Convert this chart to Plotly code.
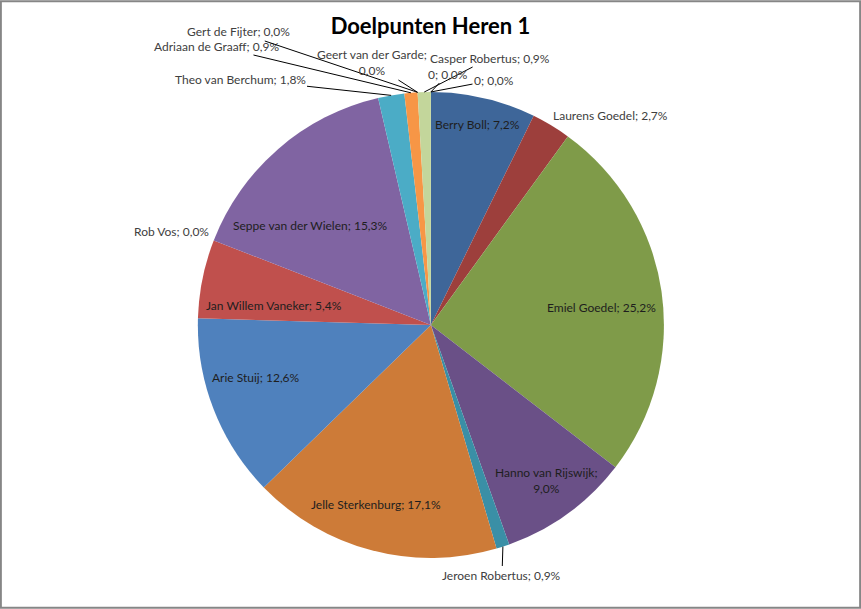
import math
import plotly.graph_objects as go

# Doelpunten per speler, volgorde zoals in de taart (met de klok mee vanaf 12 uur)
spelers = [
    'Berry Boll', 'Laurens Goedel', 'Emiel Goedel', 'Hanno van Rijswijk',
    'Jeroen Robertus', 'Jelle Sterkenburg', 'Arie Stuij', 'Jan Willem Vaneker',
    'Rob Vos', 'Seppe van der Wielen', 'Theo van Berchum', 'Adriaan de Graaff',
    'Gert de Fijter', 'Geert van der Garde', 'Casper Robertus', '0', '0 ',
]
doelpunten = [8, 3, 28, 10, 1, 19, 14, 6, 0, 17, 2, 1, 0, 0, 1, 0, 0]
# percentages zoals ze op de labels staan
aandeel = [7.2, 2.7, 25.2, 9.0, 0.9, 17.1, 12.6, 5.4, 0.0, 15.3, 1.8, 0.9,
           0.0, 0.0, 0.9, 0.0, 0.0]

kleuren = [
    '#3E6699', '#9D3F3C', '#7F9B49', '#6A5087', '#3A8FA6', '#CD7B38',
    '#4F81BD', '#C0504D', '#9BBB59', '#8064A2', '#4BACC6', '#F79646',
    '#95B3D7', '#D99694', '#C3D69B', '#B3A2C7', '#93CDDD',
]

W, H = 861, 609
dom_x = [0.2297, 0.7712]
dom_y = [0.0837, 0.849]

fig = go.Figure(go.Pie(
    labels=spelers,
    values=doelpunten,
    customdata=aandeel,
    sort=False,
    direction='clockwise',
    rotation=0,
    marker=dict(colors=kleuren, line=dict(width=0)),
    textinfo='none',
    hovertemplate='%{label}: %{value}<extra></extra>',
    showlegend=False,
    domain=dict(x=dom_x, y=dom_y),
))

# punt op de rand van de taart (pixels) midden in een punt
cx = (dom_x[0] + dom_x[1]) / 2 * W
cy = (1 - (dom_y[0] + dom_y[1]) / 2) * H
straal = min((dom_x[1] - dom_x[0]) * W, (dom_y[1] - dom_y[0]) * H) / 2
totaal = sum(doelpunten)


def rand_punt(i):
    mid = sum(doelpunten[:i]) + doelpunten[i] / 2
    hoek = 2 * math.pi * mid / totaal
    return cx + straal * math.sin(hoek), cy - straal * math.cos(hoek)


# label-posities (pixels, midden van de tekst)
label_pos = {
    0: (477, 125),
    1: (610, 115),
    2: (601, 307),
    3: (546, 480),
    4: (502, 575),
    5: (376, 504),
    6: (256, 377),
    7: (274, 305),
    8: (171, 231),
    9: (310, 225),
    10: (240, 79),
    11: (216, 46),
    12: (238, 32),
    13: (372, 63),
    14: (490, 58),
    15: (448, 74),
    16: (494, 80),
}
met_pijl = {4, 10, 11, 12, 13, 14, 15, 16}
binnen = {0, 2, 3, 5, 6, 7, 9}
twee_regels = {3, 13}

annotaties = []
for i, (lx, ly) in label_pos.items():
    naam = spelers[i].strip()
    scheiding = ';<br>' if i in twee_regels else '; '
    tekst = f'{naam}{scheiding}{aandeel[i]:.1f}%'.replace('.', ',')
    kleur = '#1E1E1E' if i in binnen else '#404040'
    if i in met_pijl:
        px, py = rand_punt(i)
        annotaties.append(dict(
            x=px / W, y=1 - py / H, xref='paper', yref='paper',
            ax=lx - px, ay=ly - py, axref='pixel', ayref='pixel',
            text=tekst, showarrow=True, arrowhead=0, arrowwidth=1,
            arrowcolor='#000000', standoff=0,
            font=dict(family='Lato', size=12, color=kleur),
        ))
    else:
        annotaties.append(dict(
            x=lx / W, y=1 - ly / H, xref='paper', yref='paper',
            xanchor='center', yanchor='middle',
            text=tekst, showarrow=False,
            font=dict(family='Lato', size=12, color=kleur),
        ))

fig.update_layout(
    width=W,
    height=H,
    margin=dict(l=0, r=0, t=0, b=0),
    paper_bgcolor='white',
    title=dict(
        text='<b>Doelpunten Heren 1</b>',
        x=0.5, xanchor='center',
        y=0.956, yanchor='middle',
        font=dict(family='Lato', size=22, color='#000000'),
    ),
    annotations=annotaties,
    shapes=[dict(
        type='rect', xref='paper', yref='paper',
        x0=0.001, y0=0.002, x1=0.999, y1=0.998,
        line=dict(color='#868686', width=2),
    )],
)

fig.write_html('out.html', config={'displayModeBar': False},
               post_script="document.body.style.margin='0';")
